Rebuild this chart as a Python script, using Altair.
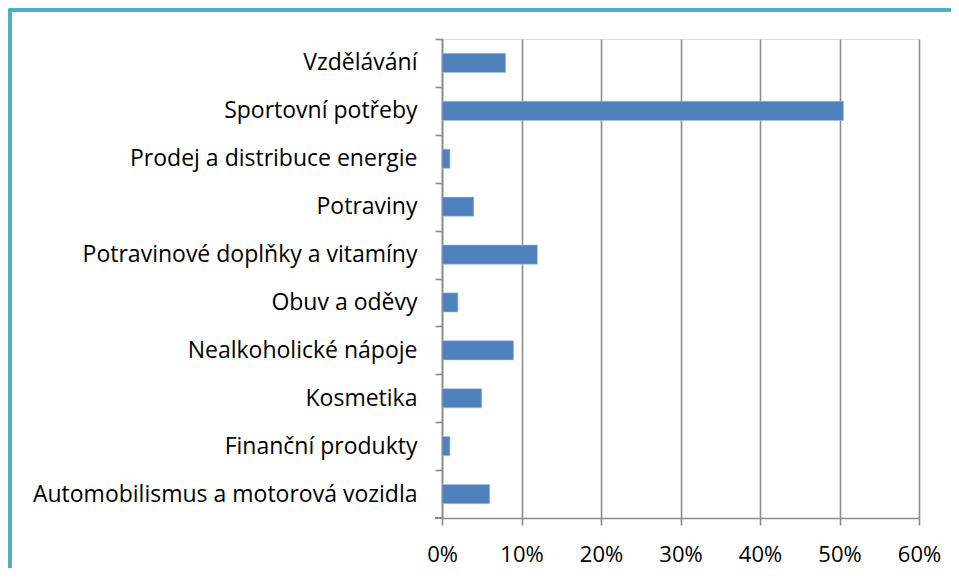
import altair as alt
import pandas as pd

categories = [
    "Vzdělávání",
    "Sportovní potřeby",
    "Prodej a distribuce energie",
    "Potraviny",
    "Potravinové doplňky a vitamíny",
    "Obuv a oděvy",
    "Nealkoholické nápoje",
    "Kosmetika",
    "Finanční produkty",
    "Automobilismus a motorová vozidla",
]
values = [0.08, 0.505, 0.01, 0.04, 0.12, 0.02, 0.09, 0.05, 0.01, 0.06]
x_ticks = [0, 0.1, 0.2, 0.3, 0.4, 0.5, 0.6]

df = pd.DataFrame({"kategorie": categories, "podil": values})

W, H = 477, 479
STEP = H / len(categories)
FONT = "Open Sans"
GRAY = "#8C8C8C"

bars = alt.Chart(df).mark_bar(color="#4F81BD", stroke="#A7C0DE", strokeWidth=0.6).encode(
    x=alt.X(
        "podil:Q",
        scale=alt.Scale(domain=[0, 0.6], nice=False),
        axis=alt.Axis(
            values=x_ticks,
            format=".0%",
            title=None,
            grid=True,
            gridColor=GRAY,
            gridWidth=1.6,
            domainColor=GRAY,
            domainWidth=1.6,
            tickColor=GRAY,
            tickWidth=1.6,
            tickSize=7,
            labelFont=FONT,
            labelFontSize=22,
            labelColor="#000000",
            labelPadding=19,
            labelFlush=False,
        ),
    ),
    y=alt.Y(
        "kategorie:N",
        sort=categories,
        scale=alt.Scale(paddingInner=0.6, paddingOuter=0.3),
        axis=alt.Axis(
            title=None,
            grid=False,
            domainColor=GRAY,
            domainWidth=1.6,
            tickColor=GRAY,
            tickWidth=1.6,
            tickSize=7,
            tickOffset=-STEP / 2,
            labelOffset=STEP / 2,
            labelFont=FONT,
            labelFontSize=23,
            labelColor="#000000",
            labelPadding=18,
            labelLimit=500,
        ),
    ),
)

bottom_tick = alt.Chart(df).mark_rule(color=GRAY, strokeWidth=1.6).encode(
    x=alt.value(-7), x2=alt.value(0), y=alt.value(H)
)

border = alt.Chart(df).mark_rect(
    fill=None, stroke="#4BACC6", strokeWidth=2.5
).encode(
    x=alt.value(-432),
    x2=alt.value(540),
    y=alt.value(-29),
    y2=alt.value(580),
)

chart = (
    alt.layer(border, bars, bottom_tick)
    .properties(
        width=W,
        height=H,
        autosize=alt.AutoSizeParams(type="none"),
        padding={"left": 434, "top": 31, "right": 32, "bottom": 50},
    )
    .configure_view(stroke=None)
    .configure(background="white")
)

chart.save("out.html", embed_options={"renderer": "svg", "actions": False})
